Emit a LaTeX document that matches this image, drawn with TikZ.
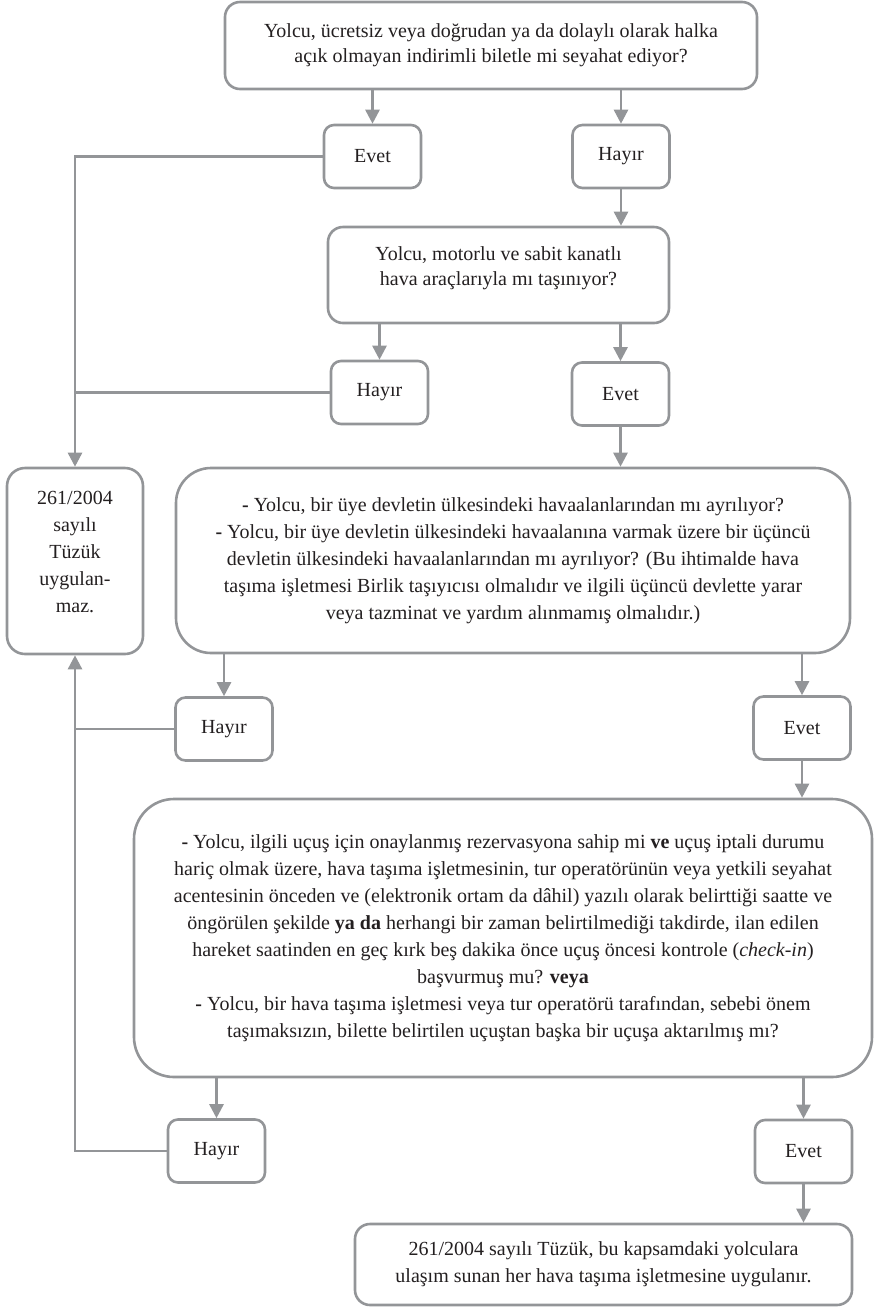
\documentclass[tikz,border=0pt]{standalone}
\usepackage{fontspec}
\setmainfont{Liberation Serif}
\usepackage{xcolor}
\definecolor{ColLine}{RGB}{147,149,152}
\definecolor{ColText}{RGB}{35,31,32}
\usepackage{tikz}
\usetikzlibrary{arrows.meta}
\tikzstyle{Box}=[draw=ColLine,line width=1.3pt,rounded corners=5pt,align=center,
inner sep=0pt,text=ColText,font=\fontsize{10}{13.5}\selectfont]
\tikzstyle{Answer}=[Box,minimum width=48.5pt,minimum height=31.5pt]
\tikzstyle{Edge}=[draw=ColLine,line width=1.3pt]
\tikzstyle{Arrow}=[Edge,-{Triangle[width=7pt,length=7pt]}]
% empty last line, lifts the text a little in its box
\newcommand{\LiftText}[1]{\\[#1]\rule{0pt}{0pt}}

\begin{document}
\begin{tikzpicture}[x=0.5pt,y=-0.5pt]
        \useasboundingbox(0,0)rectangle(874,1308);
        % questions
        \node[Box,rounded corners=7.5pt,minimum width=266pt,minimum height=43.5pt,
            font=\fontsize{10}{12.5}\selectfont](q1)at(491,45.5)
            {Yolcu, ücretsiz veya doğrudan ya da dolaylı olarak halka\\
            açık olmayan indirimli biletle mi seyahat ediyor?};
        \node[Box,rounded corners=7.5pt,minimum width=170.5pt,minimum height=48pt,
            font=\fontsize{10}{12.5}\selectfont](q2)at(498.5,275)
            {Yolcu, motorlu ve sabit kanatlı\\hava araçlarıyla mı taşınıyor?\LiftText{-3.5pt}};
        \node[Box,rounded corners=17.5pt,minimum width=337pt,minimum height=92.5pt](q3)at(513,560.5)
            {{\bfseries -} Yolcu, bir üye devletin ülkesindeki havaalanlarından mı ayrılıyor?\\
            {\bfseries -} Yolcu, bir üye devletin ülkesindeki havaalanına varmak üzere bir üçüncü\\
            devletin ülkesindeki havaalanlarından mı ayrılıyor? (Bu ihtimalde hava\\
            taşıma işletmesi Birlik taşıyıcısı olmalıdır ve ilgili üçüncü devlette yarar\\
            veya tazminat ve yardım alınmamış olmalıdır.)};
        \node[Box,rounded corners=20pt,minimum width=369pt,minimum height=139pt](q4)at(503,938)
            {{\bfseries -} Yolcu, ilgili uçuş için onaylanmış rezervasyona sahip mi \textbf{ve} uçuş iptali durumu\\
            hariç olmak üzere, hava taşıma işletmesinin, tur operatörünün veya yetkili seyahat\\
            acentesinin önceden ve (elektronik ortam da dâhil) yazılı olarak belirttiği saatte ve\\
            öngörülen şekilde \textbf{ya da} herhangi bir zaman belirtilmediği takdirde, ilan edilen\\
            hareket saatinden en geç kırk beş dakika önce uçuş öncesi kontrole (\textit{check-in})\\
            başvurmuş mu? \textbf{veya}\\
            {\bfseries -} Yolcu, bir hava taşıma işletmesi veya tur operatörü tarafından, sebebi önem\\
            taşımaksızın, bilette belirtilen uçuştan başka bir uçuşa aktarılmış mı?};
        % results
        \node[Box,rounded corners=9pt,minimum width=68pt,minimum height=93pt](na)at(75,561)
            {261/2004\\sayılı\\Tüzük\\uygulan-\\maz.\LiftText{-4.5pt}};
        \node[Box,rounded corners=7.5pt,minimum width=248.5pt,minimum height=40.5pt](ok)at(603.5,1264.5)
            {261/2004 sayılı Tüzük, bu kapsamdaki yolculara\\
            ulaşım sunan her hava taşıma işletmesine uygulanır.};
        % answers
        \node[Answer](e1)at(372.5,156.5){Evet};
        \node[Answer](h1)at(621,156.5){Hayır};
        \node[Answer](h2)at(379.5,392.5){Hayır};
        \node[Answer](e2)at(620.5,394){Evet};
        \node[Answer](h3)at(224,729){Hayır};
        \node[Answer](e3)at(802,728){Evet};
        \node[Answer](h4)at(216.5,1151){Hayır};
        \node[Answer](e4)at(803.5,1151.5){Evet};
        % connectors
        \draw[Arrow](e1|-q1.south)--(e1.north);
        \draw[Arrow](h1|-q1.south)--(h1.north);
        \draw[Arrow](h1.south)--(h1|-q2.north);
        \draw[Arrow](h2|-q2.south)--(h2.north);
        \draw[Arrow](e2|-q2.south)--(e2.north);
        \draw[Arrow](e2.south)--(e2|-q3.north);
        \draw[Arrow](e1.west)-|(na.north);
        \draw[Edge](h2.west)--(na|-h2.west);
        \draw[Arrow](h3|-q3.south)--(h3.north);
        \draw[Arrow](e3|-q3.south)--(e3.north);
        \draw[Edge](h3.west)--(na|-h3.west);
        \draw[Arrow](h4.west)-|(na.south);
        \draw[Arrow](e3.south)--(e3|-q4.north);
        \draw[Arrow](h4|-q4.south)--(h4.north);
        \draw[Arrow](e4|-q4.south)--(e4.north);
        \draw[Arrow](e4.south)--(e4|-ok.north);
    \end{tikzpicture}
\end{document}
